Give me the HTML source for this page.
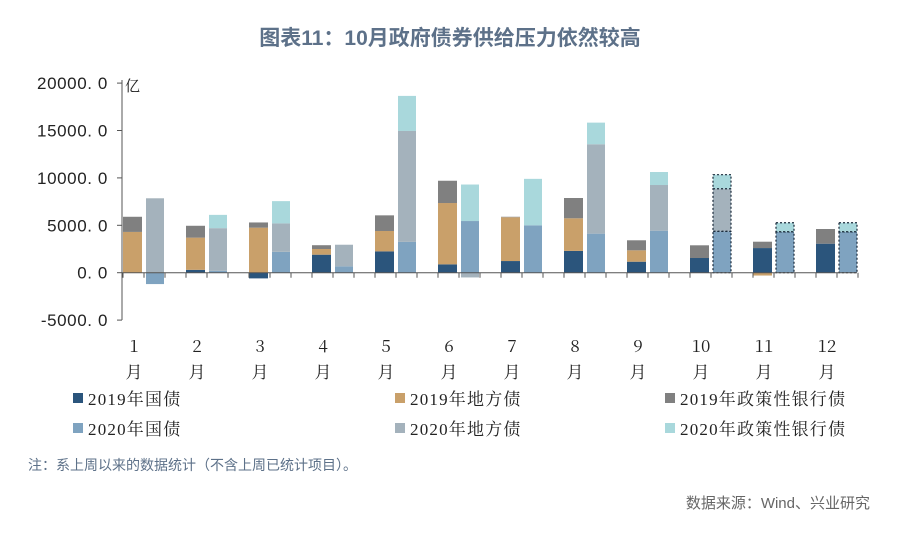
<!DOCTYPE html>
<html><head><meta charset="utf-8"><style>
body{margin:0;width:900px;height:528px;background:#fff;overflow:hidden;font-family:"Liberation Sans","Noto Sans CJK SC",sans-serif}
</style></head><body>
<svg width="900" height="528" id="c">
<text x="450" y="45" text-anchor="middle" font-size="21" font-weight="bold" fill="#5d7189" font-family="Liberation Sans, Noto Sans CJK SC, sans-serif">图表11：10月政府债券供给压力依然较高</text>
<text x="125" y="91" font-size="15" fill="#222" font-family="Noto Serif CJK SC, serif">亿</text>
<text x="28" y="470" font-size="14" fill="#5d7189">注：系上周以来的数据统计（不含上周已统计项目）。</text>
<text x="870" y="508" text-anchor="end" font-size="15" fill="#666">数据来源：Wind、兴业研究</text>
</svg>
<script>
const months=["1","2","3","4","5","6","7","8","9","10","11","12"];
const gov2019=[0,300,-600,1900,2250,880,1230,2300,1160,1550,2600,3060];
const local2019=[4300,3400,4750,600,2150,6470,4620,3440,1200,0,-300,0];
const policy2019=[1600,1250,550,400,1650,2350,50,2140,1060,1340,670,1550];
const gov2020=[-1200,200,2200,670,3250,5450,5000,4120,4430,4370,4320,4320];
const local2020=[7850,4500,3000,2280,11700,-500,0,9430,4820,4490,0,0];
const policy2020=[0,1400,2350,0,3700,3850,4900,2280,1370,1480,950,950];
const yTicks=[20000,15000,10000,5000,0,-5000];
const estimated=[false,false,false,false,false,false,false,false,false,true,true,true];
const colors={g19:"#2b557c",l19:"#c9a06a",p19:"#808080",g20:"#7fa3c0",l20:"#a4b2bc",p20:"#a9d8dc"};
const svg=document.getElementById('c');const NS="http://www.w3.org/2000/svg";
function y(v){return 272.7-v*47.4/5000;}
function x(i){return 123+63*i;}
function mk(t,a){const e=document.createElementNS(NS,t);for(const k in a)e.setAttribute(k,a[k]);svg.appendChild(e);return e;}
let ax=mk('line',{x1:122,y1:80,x2:122,y2:320,stroke:'#555','stroke-width':1});


yTicks.forEach(t=>{
 const l=mk('line',{x1:117,x2:122,y1:y(t),y2:y(t),stroke:'#555'});
 
 
 const tx=mk('text',{x:108,y:y(t)+6,'text-anchor':'end','font-size':17,'letter-spacing':0.6,fill:'#222','font-family':'Liberation Sans, sans-serif'});
 tx.textContent=t.toFixed(1).replace('.','. ');
 
 
});
function stack(i,xx,w,vals,cols,dashed){
 let pos=0,neg=0;
 vals.forEach((v,k)=>{
  if(!v)return;let y0,y1;
  if(v>0){y0=pos;y1=pos+v;pos=y1;}else{y0=neg;y1=neg+v;neg=y1;}
  const r=mk('rect',{x:xx,y:Math.min(y(y0),y(y1)),width:w,height:Math.abs(y(y0)-y(y1)),fill:cols[k]});
  if(dashed){r.setAttribute('stroke','#1a2a3a');r.setAttribute('stroke-dasharray','2,2');r.setAttribute('stroke-width','1.2');}
  
  
 });
}
months.forEach((m,i)=>{
 stack(i,x(i),19,[gov2019[i],local2019[i],policy2019[i]],[colors.g19,colors.l19,colors.p19],false);
 stack(i,x(i)+23,18,[gov2020[i],local2020[i],policy2020[i]],[colors.g20,colors.l20,colors.p20],estimated[i]);
});
let z=mk('line',{x1:122,x2:857,y1:y(0),y2:y(0),stroke:'#555'});


months.forEach((m,i)=>{
 [0,21,42].forEach(o=>{const t=mk('line',{x1:x(i)+o,x2:x(i)+o,y1:y(0),y2:y(0)+5,stroke:'#555'});
 
 });
 const tx=mk('text',{x:x(i)+11,y:352,'text-anchor':'middle','font-size':17,fill:'#222','font-family':'Noto Serif CJK SC, serif'});
 tx.textContent=m;
 
 
 const t2=mk('text',{x:x(i)+11,y:378,'text-anchor':'middle','font-size':17,fill:'#222','font-family':'Noto Serif CJK SC, serif'});
 t2.textContent='月';
 
 
});
const legend=[["2019年国债",colors.g19,73,402],["2019年地方债",colors.l19,395,402],["2019年政策性银行债",colors.p19,665,402],["2020年国债",colors.g20,73,432],["2020年地方债",colors.l20,395,432],["2020年政策性银行债",colors.p20,665,432]];
legend.forEach(l=>{
 const r=mk('rect',{x:l[2],y:l[3]-9,width:10,height:10,fill:l[1]});
 
 
 const t=mk('text',{x:l[2]+15,y:l[3]+3,'font-size':17,'letter-spacing':1.2,fill:'#222','font-family':'Liberation Serif, Noto Serif CJK SC, serif'});
 t.textContent=l[0];
 
 
});
</script>
</body></html>
